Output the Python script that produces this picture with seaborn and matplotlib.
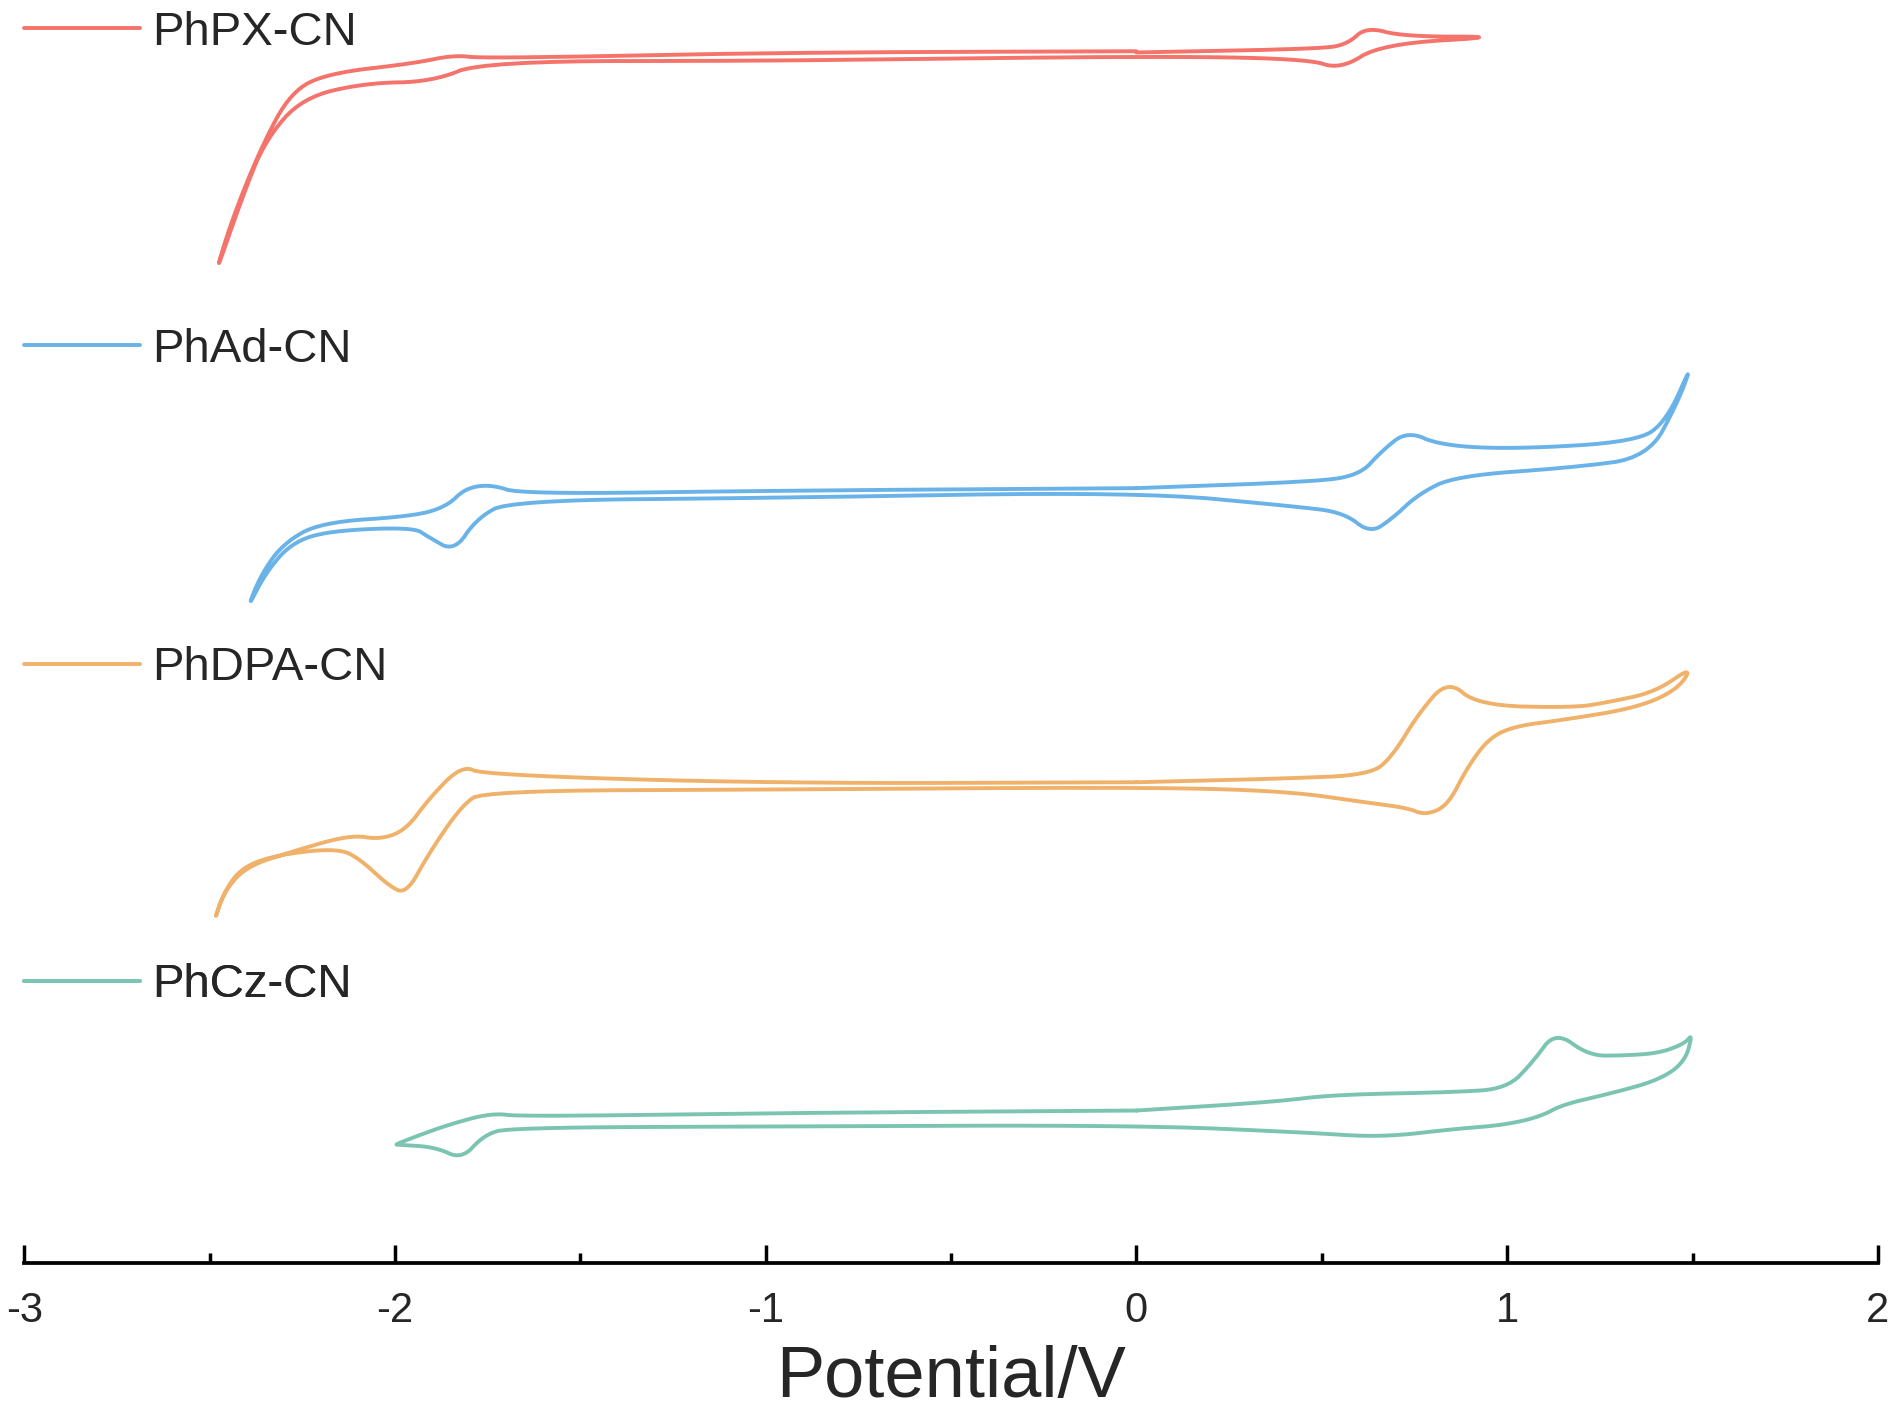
import matplotlib
matplotlib.use("Agg")
import matplotlib.pyplot as plt
from matplotlib.ticker import MultipleLocator
import numpy as np
import seaborn as sns

# cyclic voltammograms (potential in V, current in arbitrary units)
pxcn_v = [0, 0.50, 0.57, 0.62, 0.72, 1.00, 0.66, 0.55, 0.46, 0, -0.97, -1.76, -1.90, -2.08,
          -2.25, -2.35, -2.41, -2.49, -2.44, -2.36, -2.28, -2.18, -1.95, -1.84, -1.76, -0.97, 0]
pxcn_i = [-43, -40, -36, -22, -30, -30, -36, -57, -48, -46, -50, -50, -67, -68,
          -80, -115, -160, -230, -180, -120, -75, -60, -52, -45, -48, -43, -42]

adcn_v = [0, 0.46, 0.60, 0.66, 0.73, 0.82, 1.02, 1.35, 1.43, 1.50, 1.46, 1.38, 1.18, 0.86, 0.76,
          0.69, 0.63, 0.56, 0.43, 0, -0.97, -1.69, -1.78, -1.84, -1.91, -1.95, -2.18, -2.28,
          -2.35, -2.40, -2.36, -2.30, -2.20, -1.95, -1.86, -1.81, -1.74, -1.66, -0.97, 0]
adcn_i = [-400, -395, -390, -370, -353, -365, -368, -362, -345, -297, -330, -375, -383, -390, -405,
          -425, -437, -420, -415, -403, -408, -410, -425, -452, -440, -432, -435, -445,
          -470, -500, -470, -445, -428, -423, -415, -400, -397, -405, -402, -400]

dpacn_v = [0, 0.40, 0.63, 0.69, 0.76, 0.84, 0.92, 1.18, 1.28, 1.40, 1.50, 1.46, 1.35, 1.15, 1.02,
           0.95, 0.89, 0.84, 0.78, 0.73, 0.63, 0.40, 0, -0.97, -1.76, -1.82, -1.91, -1.97, -2.02,
           -2.09, -2.15, -2.31, -2.41, -2.46, -2.49, -2.46, -2.40, -2.28, -2.12, -2.04, -1.97,
           -1.91, -1.82, -1.76, -0.97, 0]
dpacn_i = [-641, -638, -635, -620, -585, -557, -578, -580, -575, -567, -546, -565, -580, -590, -595,
           -605, -630, -660, -668, -662, -658, -648, -645, -647, -648, -660, -700, -733, -725,
           -705, -695, -700, -710, -730, -757, -730, -710, -698, -684, -688, -680,
           -655, -627, -635, -642, -641]

czcn_v = [0, 0.37, 0.53, 0.86, 1.00, 1.07, 1.13, 1.22, 1.31, 1.41, 1.48, 1.50, 1.48, 1.41, 1.28,
          1.15, 1.09, 0.99, 0.86, 0.66, 0.46, 0, -0.97, -1.69, -1.76, -1.82, -1.89, -1.99, -2.00,
          -1.95, -1.86, -1.74, -1.66, -0.97, 0]
czcn_i = [-910, -903, -897, -895, -892, -870, -845, -865, -865, -863, -855, -847, -870, -885, -896,
          -905, -915, -922, -925, -932, -928, -922, -923, -924, -930, -950, -940, -938, -938,
          -932, -922, -912, -915, -912, -910]

names = ["PhPX-CN", "PhAd-CN", "PhDPA-CN", "PhCz-CN"]
colors = ["#F4736B", "#6AB3E8", "#F0B26A", "#7CC4B2"]
legend_y = [0.974, 0.723, 0.471, 0.220]


def smooth(x, y, n=3):
    # Chaikin corner cutting, keeps the end points
    p = np.column_stack([x, y]).astype(float)
    for _ in range(n):
        q = 0.75 * p[:-1] + 0.25 * p[1:]
        r = 0.25 * p[:-1] + 0.75 * p[1:]
        mid = np.empty((2 * len(q), 2))
        mid[0::2], mid[1::2] = q, r
        p = np.vstack([p[:1], mid, p[-1:]])
    return p[:, 0], p[:, 1]


sns.set_style("white")
plt.rcParams["font.family"] = ["Arial", "Liberation Sans", "DejaVu Sans"]

fig = plt.figure(figsize=(18.9, 14.16), dpi=100)
ax = fig.add_axes([0.0128, 0.108, 0.9808, 0.892])

curves = [(pxcn_v, pxcn_i), (adcn_v, adcn_i), (dpacn_v, dpacn_i), (czcn_v, czcn_i)]
for (v, i), name, c, ly in zip(curves, names, colors, legend_y):
    xs, ys = smooth(v, i)
    sns.lineplot(x=xs, y=ys, sort=False, estimator=None, color=c, lw=2.8, ax=ax, label=name, legend=False)
    h = plt.Line2D([], [], color=c, lw=2.8)
    leg = ax.legend([h], [name], loc="center left", bbox_to_anchor=(0, ly), frameon=False,
                    fontsize=34, handlelength=2.45, handletextpad=0.26, borderpad=0, borderaxespad=0)
    ax.add_artist(leg)

ax.set_xlim(-3, 2)
ax.set_ylim(-1035, 0)
for s in ["top", "right", "left"]:
    ax.spines[s].set_visible(False)
ax.spines["bottom"].set_linewidth(2.7)
ax.spines["bottom"].set_color("black")
ax.set_yticks([])
ax.xaxis.set_major_locator(MultipleLocator(1))
ax.xaxis.set_minor_locator(MultipleLocator(0.5))
ax.set_xticks([-3, -2, -1, 0, 1, 2])
ax.set_xticklabels(["-3", "-2", "-1", "0", "1", "2"])
ax.tick_params(axis="x", which="major", direction="in", length=13, width=2.5, labelsize=30,
               pad=20, bottom=True, color="black")
ax.tick_params(axis="x", which="minor", direction="in", length=7, width=2.5, bottom=True, color="black")
ax.set_xlabel("Potential/V", fontsize=52, labelpad=10)

fig.savefig("out.png", dpi=100)
